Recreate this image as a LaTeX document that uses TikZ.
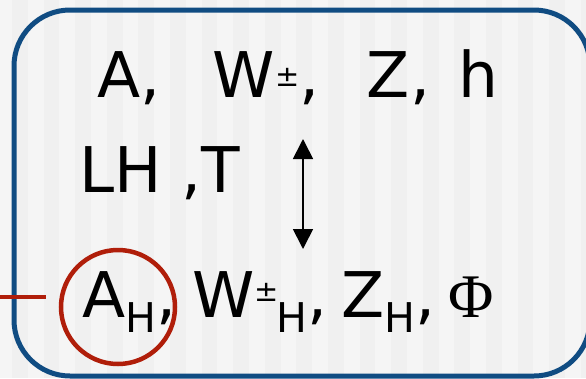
\documentclass[tikz,border=0pt]{standalone}
\usepackage{fontspec}
\setmainfont{DejaVu Sans}
\newfontfamily\phifont{Liberation Serif}
\usepackage{tikz}
\usetikzlibrary{arrows.meta,positioning}
\definecolor{framecolor}{RGB}{16,76,130}
\definecolor{markcolor}{RGB}{176,30,10}
\definecolor{stripelight}{RGB}{245,245,245}
\definecolor{stripedark}{RGB}{240,240,240}
\newcommand{\bigtxt}{\fontsize{63pt}{70pt}\selectfont}
\newcommand{\lowH}{\raisebox{-15pt}{\fontsize{41pt}{41pt}\selectfont H}}
\newcommand{\pmup}[1]{\raisebox{#1}{\fontsize{29pt}{29pt}\selectfont ±}}

\begin{document}
\begin{tikzpicture}[x=1pt,y=-1pt,line/.style={anchor=base west,inner sep=0,font=\bigtxt},arr/.style={{Triangle[length=20pt,width=20pt]}-{Triangle[length=20pt,width=20pt]},line width=1.7pt}]
\useasboundingbox (0,0) rectangle (586,378);
% striped backdrop
\fill[stripelight] (0,0) rectangle (586,378);
\foreach \i in {0,...,18} \fill[stripedark] ({12+31.6*\i},0) rectangle ({27.8+31.6*\i},378);
\draw[framecolor,line width=5pt,rounded corners=56pt] (14,10) rectangle (590,376);
\node[line](top) at (97.5,97) {A,\hspace{51.4pt}W\kern1pt\pmup{11pt},\hspace{47pt}Z,\hspace{28.8pt}h};
\node[line](mid) at (79,192) {LH ,T};
\node[line](bot) at (82,317) {A\lowH,\hspace{16pt}W\pmup{16pt}\kern-2pt\lowH,\hspace{14pt}Z\lowH,\hspace{13pt}{\phifont\fontsize{62pt}{64pt}\selectfont Φ}};
\coordinate (arrtop) at (303,139); \coordinate (arrbot) at (303,249);
\draw[arr](arrtop)--(arrbot);
\node[draw=markcolor,line width=4.5pt,circle,minimum size=114pt,inner sep=0](ring) at (118,307) {};
\coordinate (lead) at (0,297); \coordinate (leadend) at (46,297);
\draw[markcolor,line width=4.5pt](lead)--(leadend);
\end{tikzpicture}
\end{document}
